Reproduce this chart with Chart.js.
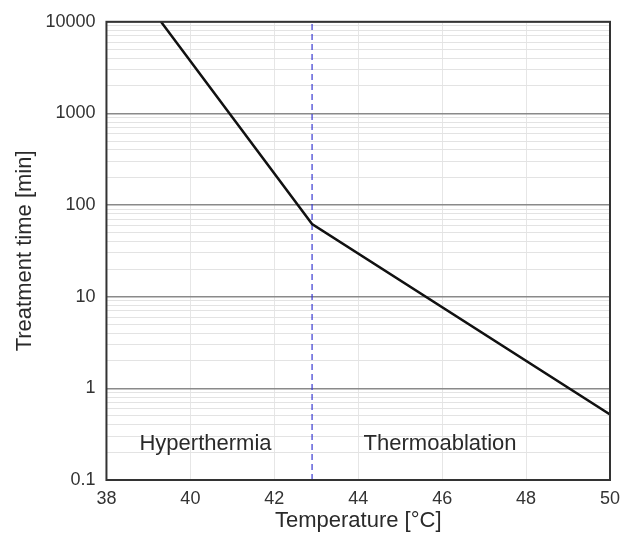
<!DOCTYPE html>
<html>
<head>
<meta charset="utf-8">
<script src="https://cdn.jsdelivr.net/npm/chart.js@4"></script>
<style>
  html, body { margin: 0; padding: 0; background: #fff; }
  #wrap { width: 622px; height: 538px; }
</style>
</head>
<body>
<div id="wrap"><canvas id="myChart" width="622" height="538"></canvas></div>
<script>
// temperature [°C] vs treatment time [min]
var temps = [39.3, 42.9, 50]
var times = [10000, 62, 0.52]
// boundary between the two regimes
var boundaryT = 42.9
var xTicks = [38, 40, 42, 44, 46, 48, 50]
var yDecades = [0.1, 1, 10, 100, 1000, 10000]
var regionNames = ['Hyperthermia', 'Thermoablation']

var FONT = "'Liberation Sans', Arial, sans-serif"

var curve = temps.map(function(t, i){ return {x: t, y: times[i]} })
var boundary = [{x: boundaryT, y: yDecades[0]}, {x: boundaryT, y: yDecades[yDecades.length-1]}]

function isDecade(v){
    var e = Math.log10(v)
    return Math.abs(e - Math.round(e)) < 1e-6
}

// frame + region labels
var extras = {
    id: 'extras',
    afterDatasetsDraw: function(chart){
        var ctx = chart.ctx, a = chart.chartArea
        var xs = chart.scales.x, ys = chart.scales.y
        ctx.save()
        ctx.fillStyle = '#2a2a2a'
        ctx.font = '22px ' + FONT
        ctx.textAlign = 'center'
        ctx.textBaseline = 'middle'
        var yLab = ys.getPixelForValue(0.25)
        ctx.fillText(regionNames[0], xs.getPixelForValue(40.36), yLab)
        ctx.fillText(regionNames[1], xs.getPixelForValue(45.95), yLab)
        ctx.strokeStyle = '#333'
        ctx.lineWidth = 2
        ctx.strokeRect(a.left, a.top, a.right - a.left, a.bottom - a.top)
        ctx.restore()
    }
}

var ctx = document.getElementById('myChart')
var myChart = new Chart(ctx, {
    type: 'scatter',
    data: {
        datasets: [{
            data: curve,
            showLine: true,
            borderColor: '#111',
            borderWidth: 2.5,
            pointRadius: 0,
            tension: 0,
            order: 1
        }, {
            data: boundary,
            showLine: true,
            borderColor: '#3838d0',
            borderWidth: 1.2,
            borderDash: [6, 4],
            pointRadius: 0,
            order: 2
        }]
    },
    options: {
        responsive: false,
        animation: false,
        layout: { padding: { top: 17, right: 12, bottom: 4, left: 12 } },
        plugins: { legend: { display: false }, tooltip: { enabled: false } },
        scales: {
            x: {
                type: 'linear',
                min: 38, max: 50,
                afterBuildTicks: function(axis){
                    axis.ticks = xTicks.map(function(v){ return {value: v} })
                },
                afterFit: function(axis){ axis.paddingRight = 0 },
                grid: { color: '#e6e6e6', drawTicks: false },
                border: { display: false },
                ticks: { color: '#333', font: { family: FONT, size: 18 }, padding: 8 },
                title: { display: true, text: 'Temperature [°C]', color: '#2a2a2a',
                         font: { family: FONT, size: 22 }, padding: { top: -10, bottom: 0 } }
            },
            y: {
                type: 'logarithmic',
                min: 0.1, max: 10000,
                afterBuildTicks: function(axis){
                    var t = []
                    yDecades.forEach(function(d, i){
                        if (i === yDecades.length - 1) { t.push({value: d}); return }
                        for (var k = 1; k < 10; k++) t.push({value: +(d * k).toPrecision(3)})
                    })
                    axis.ticks = t
                },
                grid: {
                    drawTicks: false,
                    color: function(c){ return c.tick && isDecade(c.tick.value) ? '#8a8a8a' : '#e3e3e3' },
                    lineWidth: function(c){ return c.tick && isDecade(c.tick.value) ? 1.5 : 1 }
                },
                border: { display: false },
                ticks: {
                    autoSkip: false,
                    color: '#333',
                    font: { family: FONT, size: 18 },
                    padding: 11,
                    callback: function(v){ return isDecade(v) ? String(v) : '' }
                },
                title: { display: true, text: 'Treatment time [min]', color: '#2a2a2a',
                         font: { family: FONT, size: 22 }, padding: { top: 0, bottom: -4 } }
            }
        }
    },
    plugins: [extras]
})
</script>
</body>
</html>
